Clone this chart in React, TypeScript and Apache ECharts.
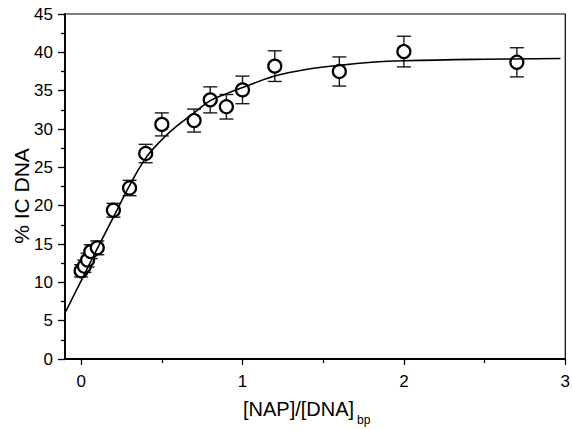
import React, { useEffect, useRef } from "react";
import * as echarts from "echarts";

// Measured data points: ratio [NAP]/[DNA]bp, % IC DNA, error (±)
const ratios = [0, 0.02, 0.04, 0.06, 0.1, 0.2, 0.3, 0.4, 0.5, 0.7, 0.8, 0.9, 1.0, 1.2, 1.6, 2.0, 2.7];
const icDna = [11.5, 12.1, 12.9, 14.0, 14.5, 19.4, 22.3, 26.8, 30.6, 31.1, 33.8, 32.9, 35.1, 38.2, 37.5, 40.1, 38.7];
const errors = [0.8, 0.8, 0.9, 0.9, 0.9, 0.9, 1.0, 1.2, 1.5, 1.5, 1.7, 1.6, 1.8, 2.0, 1.9, 2.0, 1.9];

// Fitted curve
const fitX = [-0.1, 0, 0.1, 0.2, 0.3, 0.4, 0.5, 0.6, 0.7, 0.8, 0.9, 1.0, 1.2, 1.4, 1.6, 1.8, 2.0, 2.5, 2.97];
const fitY = [6.0, 10.2, 14.4, 18.5, 22.6, 26.2, 28.6, 30.5, 32.1, 33.7, 34.6, 35.4, 36.9, 37.8, 38.3, 38.7, 38.9, 39.1, 39.2];

// Tick labels
const xMajorTicks = [0, 1, 2, 3];
const xMinorTicks = [0.5, 1.5, 2.5];

const FONT = "'Liberation Sans', Arial, Helvetica, sans-serif";

export default function App() {
  const ref = useRef<HTMLDivElement>(null);

  useEffect(() => {
    if (!ref.current) return;
    const chart = echarts.init(ref.current, null, { renderer: "svg" });

    const errData = ratios.map((x, i) => [x, icDna[i] - errors[i], icDna[i] + errors[i]]);
    const ptData = ratios.map((x, i) => [x, icDna[i]]);
    const fitData = fitX.map((x, i) => [x, fitY[i]]);

    chart.setOption({
      animation: false,
      backgroundColor: "#fff",
      grid: {
        left: 65,
        top: 14,
        right: 5,
        bottom: 71,
        show: true,
        borderColor: "#000",
        borderWidth: 1.2,
        backgroundColor: "transparent",
      },
      xAxis: [
        {
          type: "value",
          min: -0.1,
          max: 3,
          axisLine: { show: true, onZero: false, lineStyle: { color: "#000", width: 1.8 } },
          axisTick: { show: true, customValues: xMajorTicks, length: 6, lineStyle: { color: "#000", width: 1.3 } },
          axisLabel: {
            show: true,
            customValues: xMajorTicks,
            margin: 14,
            color: "#000",
            fontSize: 17,
            fontFamily: FONT,
          },
          splitLine: { show: false },
        },
        {
          type: "value",
          min: -0.1,
          max: 3,
          position: "bottom",
          axisLine: { show: false, onZero: false },
          axisTick: { show: true, customValues: xMinorTicks, length: 4, lineStyle: { color: "#000", width: 1.3 } },
          axisLabel: { show: false },
          splitLine: { show: false },
        },
      ],
      yAxis: {
        type: "value",
        min: 0,
        max: 45,
        interval: 5,
        axisLine: { show: true, onZero: false, lineStyle: { color: "#000", width: 1.8 } },
        axisTick: { show: true, length: 7, lineStyle: { color: "#000", width: 1.3 } },
        minorTick: { show: true, splitNumber: 2, length: 4, lineStyle: { color: "#000", width: 1.3 } },
        axisLabel: { margin: 12, color: "#000", fontSize: 17, fontFamily: FONT },
        splitLine: { show: false },
      },
      graphic: [
        {
          type: "text",
          x: 21,
          y: 196,
          rotation: Math.PI / 2,
          style: {
            text: "% IC DNA",
            fontSize: 21,
            fontFamily: FONT,
            fill: "#000",
            align: "center",
            verticalAlign: "middle",
          },
        },
        {
          type: "text",
          x: 243,
          y: 399,
          style: {
            text: "[NAP]/[DNA]",
            fontSize: 20,
            fontFamily: FONT,
            fill: "#000",
            align: "left",
            verticalAlign: "top",
          },
        },
        {
          type: "text",
          x: 357,
          y: 414,
          style: {
            text: "bp",
            fontSize: 12,
            fontFamily: FONT,
            fill: "#000",
            align: "left",
            verticalAlign: "top",
          },
        },
      ],
      series: [
        {
          type: "custom",
          xAxisIndex: 0,
          z: 1,
          data: errData,
          encode: { x: 0, y: [1, 2] },
          renderItem: (params: any, api: any) => {
            const x = api.value(0);
            const lo = api.coord([x, api.value(1)]);
            const hi = api.coord([x, api.value(2)]);
            const w = 7;
            const style = { stroke: "#1a1a1a", lineWidth: 1.4 };
            return {
              type: "group",
              children: [
                { type: "line", shape: { x1: hi[0], y1: hi[1], x2: lo[0], y2: lo[1] }, style },
                { type: "line", shape: { x1: hi[0] - w, y1: hi[1], x2: hi[0] + w, y2: hi[1] }, style },
                { type: "line", shape: { x1: lo[0] - w, y1: lo[1], x2: lo[0] + w, y2: lo[1] }, style },
              ],
            };
          },
        },
        {
          type: "scatter",
          xAxisIndex: 0,
          z: 2,
          data: ptData,
          symbol: "circle",
          symbolSize: 13,
          itemStyle: { color: "#fff", borderColor: "#000", borderWidth: 2.2, opacity: 1 },
        },
        {
          type: "line",
          xAxisIndex: 0,
          z: 3,
          data: fitData,
          smooth: 0.4,
          showSymbol: false,
          symbol: "none",
          lineStyle: { color: "#000", width: 1.6 },
        },
      ],
    });

    return () => chart.dispose();
  }, []);

  return <div ref={ref} style={{ width: 573, height: 430, position: "absolute", left: 0, top: 0, background: "#fff" }} />;
}
